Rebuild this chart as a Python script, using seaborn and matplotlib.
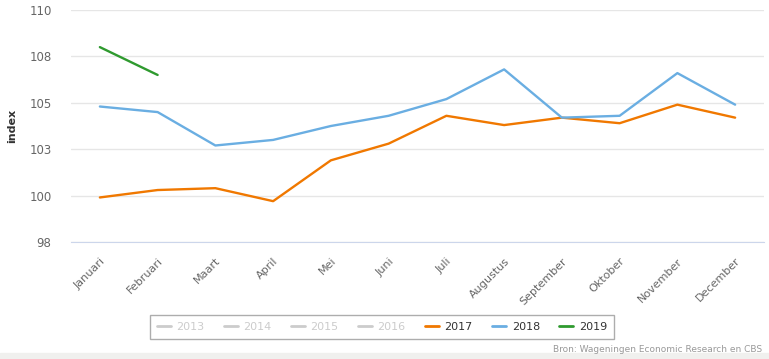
import pandas as pd
import matplotlib.pyplot as plt
import seaborn as sns
from matplotlib.lines import Line2D

maanden = ["Januari", "Februari", "Maart", "April", "Mei", "Juni", "Juli",
           "Augustus", "September", "Oktober", "November", "December"]
index_2017 = [99.9, 100.3, 100.4, 99.7, 101.9, 102.8, 104.3, 103.8, 104.2, 103.9, 104.9, 104.2]
index_2018 = [104.8, 104.5, 102.7, 103.0, 103.75, 104.3, 105.2, 106.8, 104.2, 104.3, 106.6, 104.9]
index_2019 = [108.0, 106.5]
verborgen_jaren = ["2013", "2014", "2015", "2016"]
yticks = [97.5, 100, 102.5, 105, 107.5, 110]
ylabels = ["98", "100", "103", "105", "108", "110"]

kleuren = {"2017": "#f07800", "2018": "#6aaee2", "2019": "#2f9a2f"}

rows = []
for jaar, waarden in [("2017", index_2017), ("2018", index_2018), ("2019", index_2019)]:
    for i, w in enumerate(waarden):
        rows.append({"maand": i, "index": w, "jaar": jaar})
df = pd.DataFrame(rows)

sns.set_style("white")
plt.rcParams['font.family'] = ['DejaVu Sans']

fig = plt.figure(figsize=(7.69, 3.59), dpi=100)
ax = fig.add_axes([71/769, 1-242/359, (764-71)/769, (242-10)/359])

sns.lineplot(data=df, x="maand", y="index", hue="jaar", palette=kleuren,
             linewidth=1.7, ax=ax, legend=False)

ax.set_xlim(-0.5, 11.5)
ax.set_ylim(97.5, 110)
ax.set_yticks(yticks)
ax.set_yticklabels(ylabels)
ax.yaxis.grid(True, color="#e6e6e6", linewidth=1)
ax.tick_params(axis="y", length=0, labelsize=8.5, labelcolor="#666666", pad=14)

ax.set_xticks(range(12))
ax.set_xticklabels(maanden, rotation=45, ha="right", rotation_mode="anchor",
                   fontsize=8, color="#666666")
ax.set_xticks([i - 0.5 for i in range(13)], minor=True)
ax.tick_params(axis="x", which="major", length=0, pad=10)
ax.tick_params(axis="x", which="minor", length=9, color="#ccd6eb", width=1)

for s in ["top", "right", "left"]:
    ax.spines[s].set_visible(False)
ax.spines["bottom"].set_color("#ccd6eb")

ax.set_xlabel("")
ax.set_ylabel("index", fontsize=8, fontweight="bold", color="#333333")
ax.yaxis.set_label_coords(-0.078, 0.5)

handles = [Line2D([], [], color="#cccccc", linewidth=2) for _ in verborgen_jaren]
handles += [Line2D([], [], color=kleuren[j], linewidth=2) for j in ["2017", "2018", "2019"]]
labels = verborgen_jaren + ["2017", "2018", "2019"]
leg = fig.legend(handles, labels, loc="center", bbox_to_anchor=(382/769, 1-327/359),
                 ncol=7, fontsize=8, frameon=True, handlelength=1.25, columnspacing=1.75,
                 handletextpad=0.5, borderpad=0.6, fancybox=False)
leg.get_frame().set_edgecolor("#999999")
leg.get_frame().set_linewidth(1)
for t, lab in zip(leg.get_texts(), labels):
    t.set_color("#cccccc" if lab in verborgen_jaren else "#333333")

fig.text(762/769, 1-349/359, "Bron: Wageningen Economic Research en CBS",
         ha="right", va="center", fontsize=6.5, color="#999999")
fig.patches.append(plt.Rectangle((0, 0), 1, 6/359, transform=fig.transFigure,
                                 color="#f0f0ee", zorder=-1))

fig.savefig("out.png", dpi=100)
